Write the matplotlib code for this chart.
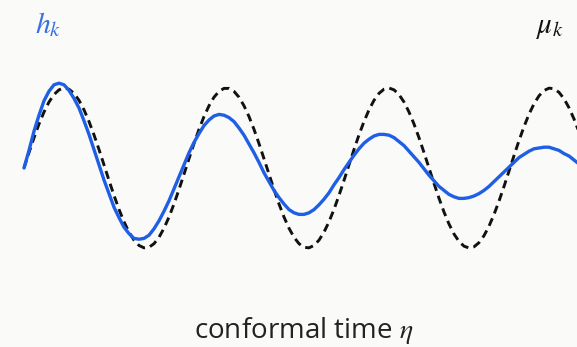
import numpy as np
import matplotlib
matplotlib.use("Agg")
import matplotlib.pyplot as plt

plt.rcParams['mathtext.fontset'] = 'stix'

# conformal time samples (arbitrary units, evenly spaced, 0 .. 56)
eta = [k * 0.5 for k in range(113)]

# mu_k (black dashed)
mu_k = [0.000, 0.193, 0.378, 0.550, 0.700, 0.825, 0.918, 0.977, 1.000, 0.985,
        0.933, 0.846, 0.727, 0.581, 0.414, 0.231, 0.039, -0.155, -0.342, -0.517,
        -0.672, -0.802, -0.902, -0.968, -0.998, -0.991, -0.946, -0.866, -0.753, -0.613,
        -0.449, -0.268, -0.077, 0.116, 0.305, 0.483, 0.643, 0.778, 0.885, 0.958,
        0.995, 0.995, 0.958, 0.885, 0.778, 0.643, 0.483, 0.305, 0.116, -0.077,
        -0.268, -0.449, -0.613, -0.753, -0.866, -0.946, -0.991, -0.998, -0.968, -0.902,
        -0.802, -0.672, -0.517, -0.342, -0.155, 0.039, 0.231, 0.414, 0.581, 0.727,
        0.846, 0.933, 0.985, 1.000, 0.977, 0.918, 0.825, 0.700, 0.550, 0.378,
        0.193, 0.000, -0.193, -0.378, -0.550, -0.700, -0.825, -0.918, -0.977, -1.000,
        -0.985, -0.933, -0.846, -0.727, -0.581, -0.414, -0.231, -0.039, 0.155, 0.342,
        0.517, 0.672, 0.802, 0.902, 0.968, 0.998, 0.991, 0.946, 0.866, 0.753,
        0.613, 0.449, 0.268]

# h_k (blue solid)
h_k = [0.00, 0.22, 0.46, 0.66, 0.84, 0.96, 1.04, 1.06, 1.04, 0.97,
       0.87, 0.75, 0.59, 0.42, 0.23, 0.04, -0.15, -0.32, -0.49, -0.62,
       -0.74, -0.82, -0.88, -0.89, -0.88, -0.84, -0.76, -0.66, -0.54, -0.41,
       -0.26, -0.11, 0.04, 0.19, 0.32, 0.43, 0.53, 0.60, 0.65, 0.67,
       0.66, 0.63, 0.58, 0.50, 0.41, 0.30, 0.19, 0.07, -0.06, -0.17,
       -0.28, -0.37, -0.45, -0.52, -0.56, -0.58, -0.58, -0.56, -0.52, -0.46,
       -0.39, -0.31, -0.21, -0.12, -0.02, 0.07, 0.16, 0.24, 0.31, 0.36,
       0.40, 0.42, 0.42, 0.41, 0.38, 0.33, 0.28, 0.21, 0.14, 0.07,
       -0.01, -0.09, -0.16, -0.23, -0.28, -0.33, -0.36, -0.38, -0.38, -0.37,
       -0.35, -0.32, -0.28, -0.23, -0.17, -0.11, -0.05, 0.01, 0.07, 0.13,
       0.17, 0.21, 0.24, 0.25, 0.26, 0.26, 0.24, 0.22, 0.18, 0.15,
       0.10, 0.05, 0.00]

bg = '#fafaf8'
blue = '#1f5fe6'

fig = plt.figure(figsize=(5.77, 3.47), dpi=100, facecolor=bg)
ax = fig.add_axes([0, 0, 1, 1])
ax.set_facecolor(bg)
ax.axis('off')

ax.plot(eta, mu_k, color='#111111', lw=2.1, linestyle=(0, (2.8, 1.8)),
        dash_capstyle='butt', zorder=2)
ax.plot(eta, h_k, color=blue, lw=2.4, solid_joinstyle='round',
        solid_capstyle='round', zorder=3)

# pixel x 0..577 -> eta -2.4..55.3 ; pixel y 0..347 -> 2.1..-2.2375
ax.set_xlim(-2.4, 55.3)
ax.set_ylim(-2.2375, 2.1)

ax.text(0.084, 1 - 33 / 347, r'$h_k$', color='#3a6fe0', fontsize=21.5,
        ha='center', va='baseline', transform=ax.transAxes)
ax.text(0.953, 1 - 33 / 347, r'$\mu_k$', color='#111111', fontsize=21,
        ha='center', va='baseline', transform=ax.transAxes)

ax.text(304 / 577, 1 - 338 / 347, r'conformal time $\eta$', color='#222222',
        fontsize=20, family='Open Sans', ha='center', va='baseline',
        transform=ax.transAxes)

fig.savefig('out.png', dpi=100, facecolor=bg)
